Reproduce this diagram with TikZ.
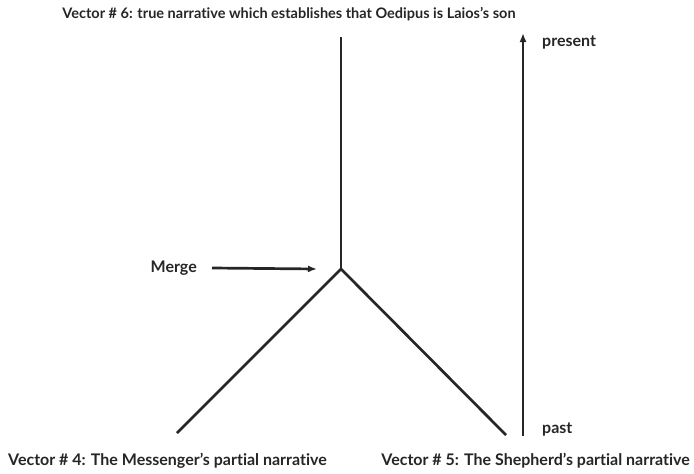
\documentclass[tikz,border=0pt]{standalone}
\usepackage{fontspec}
\setmainfont{Lato}[UprightFont = * Bold, Ligatures = NoCommon]
\usetikzlibrary{arrows, arrows.meta}
\tikzset{label/.style = {inner sep = 0pt, font = \fontsize{16}{18}\selectfont, text = black!85}}
\tikzset{heading/.style = {label, font = \fontsize{14.5}{16}\selectfont}}
\tikzset{branch/.style = {-, line width = 2.7pt, draw = black!85}}
\tikzset{pointer/.style = {-{Latex[length = 9pt, width = 7pt]}, line width = 2.7pt, draw = black!85}}

\begin{document}
\begin{tikzpicture}[x = 1pt, y = -1pt]
				\useasboundingbox (0, 0) rectangle (694, 474);

				\coordinate (top) at (341, 37);
				\coordinate (join) at (341, 269);
				\coordinate (left) at (177, 433);
				\coordinate (right) at (506, 435);
				\coordinate (past) at (523, 436);
				\coordinate (present) at (523, 33);

				\node[heading] (title) at (289, 14) {Vector \# 6: true narrative which establishes that Oedipus is Laios’s son};
				\node[label, anchor = east] (merge) at (197, 268) {Merge};
				\node[label, anchor = west] (now) at (542, 42) {present};
				\node[label, anchor = west] (then) at (542, 429) {past};
				\node[label, anchor = west] (four) at (8, 461) {Vector \# 4: The Messenger’s partial narrative};
				\node[label, anchor = east] (five) at (690, 461) {Vector \# 5: The Shepherd’s partial narrative};

				\draw[branch] (top) to (join);
				\draw[branch] (join) to (left);
				\draw[branch] (join) to (right);
				\draw[pointer] ([xshift = 15pt]merge.east) to ([xshift = -24pt]join);
				\draw[pointer] (past) to (present);
			\end{tikzpicture}
\end{document}
